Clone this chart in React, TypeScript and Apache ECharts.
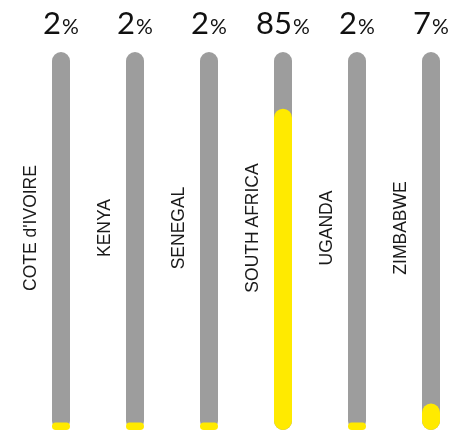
import React, { useEffect, useRef } from "react";
import * as echarts from "echarts";

const categories = ["COTE d'IVOIRE", "KENYA", "SENEGAL", "SOUTH AFRICA", "UGANDA", "ZIMBABWE"];
const shares = [2, 2, 2, 85, 2, 7];
const trackMax = 100;

export default function App() {
  const ref = useRef<HTMLDivElement>(null);
  useEffect(() => {
    if (!ref.current) return;
    const chart = echarts.init(ref.current, null, { renderer: "svg" });
    chart.setOption({
      animation: false,
      grid: { left: 24, top: 52, width: 444, height: 378 },
      xAxis: [
        {
          type: "category",
          data: categories,
          axisLine: { show: false },
          axisTick: { show: false },
          axisLabel: { show: false },
        },
        {
          type: "category",
          position: "top",
          data: shares.map((v) => String(v)),
          axisLine: { show: false },
          axisTick: { show: false },
          axisLabel: {
            interval: 0,
            hideOverlap: false,
            margin: 15,
            formatter: (v: string) => `{n|${v}}{p|%}`,
            rich: {
              n: { fontFamily: "Lato", fontSize: 31, color: "#111", verticalAlign: "bottom", lineHeight: 32 },
              p: { fontFamily: "Lato", fontSize: 21, color: "#111", verticalAlign: "bottom", lineHeight: 32, padding: [0, 0, 1, 1] },
            },
          },
        },
      ],
      yAxis: { type: "value", min: 0, max: trackMax, show: false },
      series: [
        {
          type: "bar",
          xAxisIndex: 0,
          data: categories.map(() => trackMax),
          barWidth: 18,
          barGap: "-100%",
          itemStyle: { color: "#9d9d9d", borderRadius: 9 },
          label: {
            show: true,
            formatter: (p: any) => p.name,
            position: [-22, 176],
            rotate: 90,
            align: "center",
            verticalAlign: "middle",
            fontFamily: "Liberation Sans",
            fontSize: 17.5,
            color: "#1a1a1a",
          },
          silent: true,
        },
        {
          type: "bar",
          xAxisIndex: 0,
          data: shares,
          barWidth: 18,
          itemStyle: { color: "#ffea00", borderRadius: 9 },
        },
      ],
    });
    return () => chart.dispose();
  }, []);
  return (
    <div style={{ position: "fixed", left: 0, top: 0, width: 449, height: 430, overflow: "hidden" }}>
      <div ref={ref} style={{ width: 480, height: 430 }} />
    </div>
  );
}
